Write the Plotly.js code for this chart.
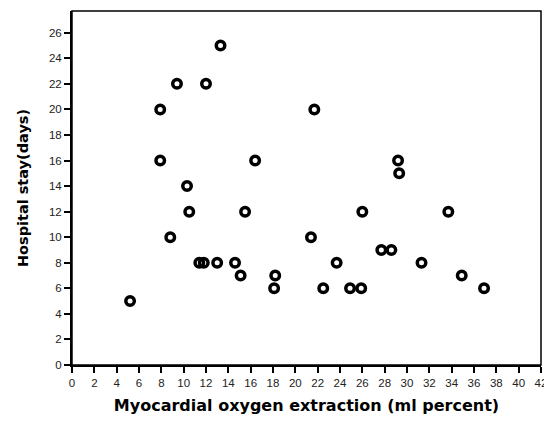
<!DOCTYPE html>
<html>
<head>
<meta charset="utf-8">
<script src="https://cdn.plot.ly/plotly-3.0.1.min.js"></script>
<style>html,body{margin:0;padding:0;background:#fff;}#chart{width:544px;height:425px;}</style>
</head>
<body>
<div id="chart"></div>
<script>
// Myocardial oxygen extraction (ml percent)
const oxygenExtraction = [5.2, 7.9, 7.9, 8.8, 9.4, 10.3, 10.5, 11.4, 11.8, 12.0, 13.0, 13.3, 14.6, 15.1, 15.5, 16.4,
  18.1, 18.2, 21.4, 21.7, 22.5, 23.7, 24.9, 25.9, 26.0, 27.7, 28.6, 29.2, 29.3, 31.3, 33.7, 34.9, 36.9];
// Hospital stay (days)
const hospitalStay = [5, 20, 16, 10, 22, 14, 12, 8, 8, 22, 8, 25, 8, 7, 12, 16,
  6, 7, 10, 20, 6, 8, 6, 6, 12, 9, 9, 16, 15, 8, 12, 7, 6];
const xTicks = [0,2,4,6,8,10,12,14,16,18,20,22,24,26,28,30,32,34,36,38,40,42];
const yTicks = [0,2,4,6,8,10,12,14,16,18,20,22,24,26];

const trace = {
  x: oxygenExtraction,
  y: hospitalStay,
  mode: 'markers',
  type: 'scatter',
  marker: {symbol: 'circle-open', size: 8.5, color: '#000', line: {width: 3.5, color: '#000'}},
  cliponaxis: false,
  hoverinfo: 'skip'
};

const tickFont = {family: 'Liberation Sans, Arial, sans-serif', size: 11.5, color: '#222'};
const xTitleFont = {family: 'DejaVu Sans, Verdana, sans-serif', size: 16, color: '#000', weight: 'bold'};
const yTitleFont = {family: 'DejaVu Sans, Verdana, sans-serif', size: 14.5, color: '#000', weight: 'bold'};

const layout = {
  width: 544, height: 425,
  margin: {l: 72, r: 3, t: 11, b: 60},
  paper_bgcolor: '#fff', plot_bgcolor: '#fff',
  showlegend: false,
  xaxis: {
    range: [0, 42], tickvals: xTicks, ticktext: xTicks.map(String),
    showgrid: false, zeroline: false, showline: true, linecolor: '#000', linewidth: 2,
    ticks: 'outside', ticklen: 6, tickwidth: 2, tickcolor: '#000',
    tickfont: tickFont, ticklabeloverflow: 'allow',
    title: {text: 'Myocardial oxygen extraction (ml percent)', font: xTitleFont, standoff: 12}
  },
  yaxis: {
    range: [0, 27.7], tickvals: yTicks, ticktext: yTicks.map(String),
    showgrid: false, zeroline: false, showline: true, linecolor: '#000', linewidth: 2,
    ticks: 'outside', ticklen: 6, tickwidth: 2, tickcolor: '#000',
    tickfont: tickFont,
    title: {text: 'Hospital stay(days)', font: yTitleFont, standoff: 17}
  },
  shapes: [{type: 'rect', xref: 'paper', yref: 'paper', x0: 0, x1: 1, y0: 0, y1: 1,
    line: {color: '#000', width: 1.5}, layer: 'below'}]
};

Plotly.newPlot('chart', [trace], layout, {displayModeBar: false, staticPlot: true});
</script>
</body>
</html>
